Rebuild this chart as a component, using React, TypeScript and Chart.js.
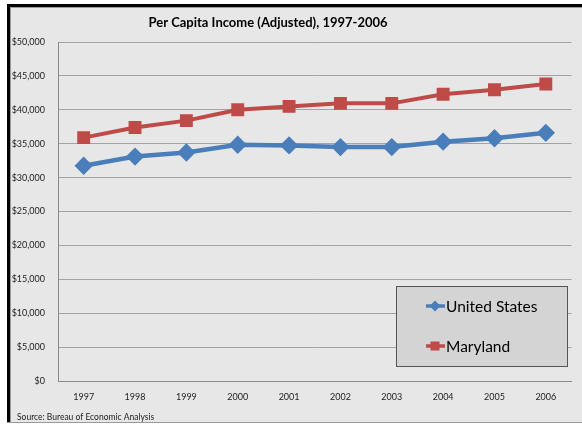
import React, { useEffect, useRef } from "react";
import { Chart, registerables } from "chart.js";
Chart.register(...registerables);

const years = ["1997", "1998", "1999", "2000", "2001", "2002", "2003", "2004", "2005", "2006"];
const unitedStates = [31750, 33100, 33700, 34850, 34750, 34500, 34500, 35300, 35800, 36600];
const maryland = [35900, 37400, 38400, 40000, 40500, 40950, 40950, 42300, 42950, 43800];
const seriesNames = ["United States", "Maryland"];
const titleText = "Per Capita Income (Adjusted), 1997-2006";
const sourceText = "Source: Bureau of Economic Analysis";
const yMin = 0;
const yMax = 50000;
const yStep = 5000;

const BLUE = "#4a7ebb";
const RED = "#be4b48";
const FONT = "Lato, 'Liberation Sans', sans-serif";

const decorPlugin = {
  id: "decor",
  beforeDraw(chart: any) {
    const ctx = chart.ctx;
    const w = chart.width;
    const h = chart.height;
    ctx.save();
    ctx.fillStyle = "#ffffff";
    ctx.fillRect(0, 0, w, h);
    ctx.fillStyle = "#e7e7e7";
    ctx.fillRect(7, 4, w - 7, 419);
    ctx.fillStyle = "#000000";
    ctx.fillRect(7, 4, 3, 419);
    ctx.fillRect(7, 4, w - 7, 3);
    ctx.fillStyle = "#9a9a9a";
    ctx.fillRect(10, 7, 1, 416);
    ctx.fillRect(10, 7, w - 10, 1);
    ctx.fillRect(7, 422, w - 7, 1);
    ctx.restore();
  },
  afterDraw(chart: any) {
    const ctx = chart.ctx;
    ctx.save();
    ctx.fillStyle = "#000000";
    ctx.font = `bold 13px ${FONT}`;
    ctx.textAlign = "center";
    ctx.textBaseline = "middle";
    ctx.fillText(titleText, 268, 23);
    ctx.font = `8.5px ${FONT}`;
    ctx.textAlign = "left";
    ctx.fillStyle = "#222222";
    ctx.fillText(sourceText, 17, 417);
    const bx = 396, by = 286, bw = 171, bh = 80;
    ctx.fillStyle = "#d4d4d4";
    ctx.fillRect(bx, by, bw, bh);
    ctx.strokeStyle = "#555555";
    ctx.lineWidth = 1;
    ctx.strokeRect(bx + 0.5, by + 0.5, bw, bh);
    const items = [
      { name: seriesNames[0], color: BLUE, style: "rectRot", r: 5.5, y: 306 },
      { name: seriesNames[1], color: RED, style: "rect", r: 6, y: 346 },
    ];
    for (const it of items) {
      ctx.strokeStyle = it.color;
      ctx.lineWidth = 3.5;
      ctx.beginPath();
      ctx.moveTo(426, it.y);
      ctx.lineTo(445, it.y);
      ctx.stroke();
      ctx.fillStyle = it.color;
      if (it.style === "rectRot") {
        ctx.beginPath();
        ctx.moveTo(435, it.y - it.r);
        ctx.lineTo(435 + it.r, it.y);
        ctx.lineTo(435, it.y + it.r);
        ctx.lineTo(435 - it.r, it.y);
        ctx.closePath();
        ctx.fill();
      } else {
        ctx.fillRect(435 - 4.5, it.y - 4.5, 9, 9);
      }
      ctx.fillStyle = "#000000";
      ctx.font = `15.5px ${FONT}`;
      ctx.textAlign = "left";
      ctx.textBaseline = "middle";
      ctx.fillText(it.name, 446, it.y + 1);
    }
    ctx.restore();
  },
};

export default function App() {
  const ref = useRef<HTMLCanvasElement | null>(null);
  useEffect(() => {
    document.body.style.margin = "0";
    const canvas = ref.current;
    if (!canvas) return;
    const chart = new Chart(canvas, {
      type: "line",
      data: {
        labels: years,
        datasets: [
          {
            label: seriesNames[0],
            data: unitedStates,
            borderColor: BLUE,
            backgroundColor: BLUE,
            borderWidth: 4.5,
            pointStyle: "rectRot",
            pointRadius: 6,
            pointHoverRadius: 6,
            tension: 0,
          },
          {
            label: seriesNames[1],
            data: maryland,
            borderColor: RED,
            backgroundColor: RED,
            borderWidth: 4,
            pointStyle: "rect",
            pointRadius: 6.3,
            pointHoverRadius: 6.3,
            tension: 0,
          },
        ],
      },
      options: {
        animation: false,
        responsive: false,
        maintainAspectRatio: false,
        events: [],
        layout: { padding: { left: 0, right: 10, top: 42, bottom: 0 } },
        plugins: {
          legend: { display: false },
          title: { display: false },
          tooltip: { enabled: false },
        },
        scales: {
          x: {
            offset: true,
            grid: { display: true, color: "rgba(0,0,0,0)", drawTicks: false },
            border: { display: true, color: "#8a8a8a", width: 1 },
            ticks: { color: "#222222", font: { family: FONT, size: 9 }, padding: 11, maxRotation: 0 },
            afterFit: (s: any) => { s.height = 45; },
          },
          y: {
            min: yMin,
            max: yMax,
            ticks: {
              stepSize: yStep,
              color: "#222222",
              font: { family: FONT, size: 9 },
              padding: 13,
              callback: (v: any) => "$" + Number(v).toLocaleString("en-US"),
            },
            grid: { color: "#a3a3a3", drawTicks: false, lineWidth: 1 },
            border: { display: true, color: "#8a8a8a", width: 1 },
            afterFit: (s: any) => { s.width = 58; },
          },
        },
      },
      plugins: [decorPlugin],
    });
    return () => chart.destroy();
  }, []);
  return (
    <div style={{ width: 582, height: 426 }}>
      <canvas ref={ref} width={582} height={426} style={{ display: "block" }} />
    </div>
  );
}
